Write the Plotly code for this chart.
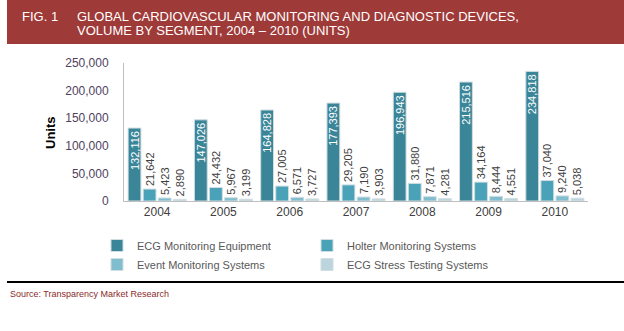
import plotly.graph_objects as go

years = ["2004", "2005", "2006", "2007", "2008", "2009", "2010"]
ecg = [132116, 147026, 164828, 177393, 196943, 215516, 234818]
holter = [21642, 24432, 27005, 29205, 31880, 34164, 37040]
event = [5423, 5967, 6571, 7190, 7871, 8444, 9240]
stress = [2890, 3199, 3727, 3903, 4281, 4551, 5038]
series_names = ["ECG Monitoring Equipment", "Holter Monitoring Systems",
                "Event Monitoring Systems", "ECG Stress Testing Systems"]
colors = ["#3a8598", "#4aa2b9", "#80bdcf", "#bcd5dd"]

W, H = 624, 331
L, R, T, B = 124, 36, 63, 130
pw, ph = W - L - R, H - T - B


def px(x):
    return (x - L) / pw


def py(y):
    return (H - B - y) / ph


fig = go.Figure()
for i, (name, vals) in enumerate(zip(series_names, [ecg, holter, event, stress])):
    inside = i == 0
    fig.add_trace(go.Bar(
        x=years, y=vals, name=name,
        marker=dict(color=colors[i], line=dict(color="#d0dde1", width=1)),
        texttemplate="%{y:,}",
        textposition="inside" if inside else "outside",
        insidetextanchor="end",
        textangle=-90,
        constraintext="none",
        cliponaxis=False,
        textfont=dict(size=11, color="white" if inside else "#404040",
                      family="Liberation Sans, Arial"),
    ))

fig.update_layout(
    width=W, height=H,
    margin=dict(l=L, r=R, t=T, b=B, pad=0),
    paper_bgcolor="white", plot_bgcolor="white",
    barmode="group", bargap=0.09, bargroupgap=0.15,
    font=dict(family="Liberation Sans, Arial", size=11, color="#404040"),
    showlegend=True,
    legend=dict(orientation="h", x=px(97), y=py(231), xanchor="left", yanchor="top",
                entrywidth=165, entrywidthmode="pixels", traceorder="normal",
                font=dict(size=11, color="#595959"), itemwidth=30,
                bgcolor="rgba(0,0,0,0)", tracegroupgap=0),
    xaxis=dict(showline=True, linecolor="#bfbfbf", linewidth=1, ticks="",
               tickfont=dict(size=12, color="#404040"), showgrid=False),
    yaxis=dict(range=[0, 250000], dtick=50000, tickformat=",", showline=True,
               linecolor="#bfbfbf", linewidth=1, showgrid=False, zeroline=False,
               ticks="", ticklabelstandoff=12,
               tickfont=dict(size=12, color="#4f4260")),
    shapes=[
        dict(type="rect", xref="paper", yref="paper", x0=px(7), x1=px(624),
             y0=py(44), y1=py(0), fillcolor="#9e3a38", line=dict(width=0), layer="below"),
        dict(type="line", xref="paper", yref="paper", x0=px(7), x1=px(624),
             y0=py(282), y1=py(282), line=dict(color="black", width=2)),
    ],
    annotations=[
        dict(text="FIG. 1", xref="paper", yref="paper", x=px(20), y=py(16),
             xanchor="left", yanchor="middle", showarrow=False,
             font=dict(size=13, color="white", family="Liberation Sans, Arial")),
        dict(text="GLOBAL CARDIOVASCULAR MONITORING AND DIAGNOSTIC DEVICES,",
             xref="paper", yref="paper", x=px(75), y=py(16),
             xanchor="left", yanchor="middle", showarrow=False,
             font=dict(size=13, color="white", family="Liberation Sans, Arial")),
        dict(text="VOLUME BY SEGMENT, 2004 – 2010 (UNITS)",
             xref="paper", yref="paper", x=px(75), y=py(30),
             xanchor="left", yanchor="middle", showarrow=False,
             font=dict(size=13, color="white", family="Liberation Sans, Arial")),
        dict(text="<b>Units</b>", xref="paper", yref="paper", x=px(50), y=py(133),
             xanchor="center", yanchor="middle",
             textangle=-90, showarrow=False,
             font=dict(size=13, color="black", family="Liberation Sans, Arial")),
        dict(text="Source: Transparency Market Research", xref="paper", yref="paper",
             x=px(8), y=py(294), xanchor="left", yanchor="middle", showarrow=False,
             font=dict(size=9, color="#8b2a2a", family="Liberation Sans, Arial")),
    ],
)

fig.write_html("out.html")
